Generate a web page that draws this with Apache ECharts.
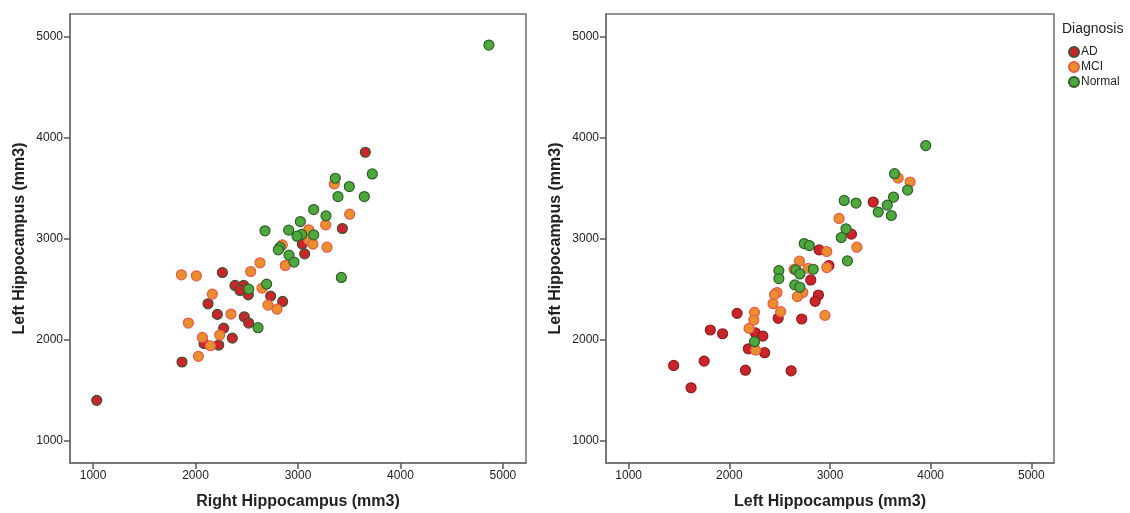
<!DOCTYPE html>
<html>
<head>
<meta charset="utf-8">
<script src="https://cdn.jsdelivr.net/npm/echarts@6/dist/echarts.min.js"></script>
<style>
  html, body { margin: 0; padding: 0; background: #fff; }
  #chart { width: 1130px; height: 513px; }
</style>
</head>
<body>
<div id="chart"></div>
<script>
// left panel: Right Hippocampus (x) vs Left Hippocampus (y)
const leftAD = [
  [3657, 3855], [3433, 3099], [3042, 2944], [3065, 2848], [2262, 2663],
  [2385, 2535], [2470, 2535], [2434, 2485], [2515, 2442], [2733, 2429],
  [2122, 2353], [2850, 2376], [2213, 2248], [2476, 2224], [2519, 2162],
  [2275, 2112], [2359, 2013], [2083, 1960], [2226, 1944], [1868, 1776],
  [1036, 1396]
];
const leftMCI = [
  [3354, 3541], [3504, 3241], [3270, 3135], [3104, 3086], [3107, 2983],
  [3146, 2944], [2847, 2937], [3283, 2914], [2876, 2733], [2629, 2759],
  [2538, 2673], [1862, 2640], [2008, 2630], [2649, 2508], [2164, 2449],
  [2707, 2340], [2795, 2300], [2346, 2251], [1930, 2162], [2236, 2043],
  [2067, 2020], [2145, 1937], [2028, 1832]
];
const leftNormal = [
  [4863, 4917], [3725, 3640], [3364, 3597], [3501, 3515], [3390, 3416],
  [3647, 3416], [3153, 3287], [3273, 3224], [3023, 3168], [2678, 3076],
  [2909, 3083], [3036, 3040], [2990, 3023], [3153, 3036], [2824, 2914],
  [2808, 2888], [2912, 2835], [2961, 2766], [3423, 2614], [2694, 2548],
  [2519, 2498], [2610, 2116]
];

// right panel
const rightAD = [
  [3429, 3361], [3213, 3043], [2892, 2887], [2989, 2732], [2809, 2589],
  [2885, 2440], [2852, 2377], [2485, 2209], [2719, 2202], [2077, 2258],
  [1811, 2093], [1933, 2056], [2258, 2066], [2333, 2033], [2189, 1907],
  [2351, 1868], [1750, 1785], [1447, 1742], [2160, 1695], [2614, 1689],
  [1620, 1520]
];
const rightMCI = [
  [3677, 3599], [3796, 3560], [3090, 3199], [3267, 2914], [2968, 2871],
  [2697, 2775], [2784, 2705], [2968, 2712], [2474, 2464], [2449, 2444],
  [2730, 2464], [2676, 2424], [2434, 2354], [2510, 2275], [2950, 2238],
  [2250, 2268], [2243, 2192], [2196, 2109], [2261, 1894], [2643, 2695]
];
const rightNormal = [
  [3951, 3921], [3641, 3642], [3771, 3480], [3631, 3411], [3569, 3331],
  [3479, 3262], [3609, 3228], [3141, 3377], [3259, 3351], [3159, 3096],
  [3112, 3010], [3173, 2778], [2744, 2950], [2795, 2930], [2492, 2682],
  [2492, 2603], [2661, 2689], [2701, 2649], [2834, 2695], [2650, 2540],
  [2701, 2517], [2250, 1977]
];

const ticks = [1000, 2000, 3000, 4000, 5000];
const groups = ["AD", "MCI", "Normal"];

const fill = { AD: "#c9252b", MCI: "#e98f2e", Normal: "#4ea83c" };
const edge = [
  { AD: "#3d5334", MCI: "#e8584c", Normal: "#2f5f2a" },
  { AD: "#8e1c1c", MCI: "#e8584c", Normal: "#2f5f2a" },
];

const font = "Liberation Sans, Arial, sans-serif";

function makeAxis(idx, name, isX) {
  return {
    type: "value",
    gridIndex: idx,
    min: 775,
    max: 5225,
    name,
    nameLocation: "middle",
    nameGap: isX ? 31 : 42,
    nameTextStyle: { fontFamily: font, fontSize: 16, fontWeight: "bold", color: "#222" },
    axisLine: { show: true, onZero: false, lineStyle: { color: "#6f6f6f", width: 1.5 } },
    axisTick: { show: true, length: 6, customValues: ticks, lineStyle: { color: "#555", width: 1.5 } },
    axisLabel: {
      customValues: ticks,
      formatter: v => String(v),
      fontFamily: font,
      fontSize: 12,
      color: "#222",
      margin: 7,
    },
    splitLine: { show: false },
  };
}

function makeSeries(idx, data) {
  return groups.map((g, i) => ({
    name: g,
    type: "scatter",
    xAxisIndex: idx,
    yAxisIndex: idx,
    symbol: "circle",
    symbolSize: 10,
    data: data[i],
    itemStyle: { color: fill[g], borderColor: edge[idx][g], borderWidth: 1.2, opacity: 1 },
  }));
}

const gridBase = {
  top: 14, bottom: 50, show: true, borderColor: "#6f6f6f", borderWidth: 1.5,
  containLabel: false, outerBoundsMode: "none",
};

const chart = echarts.init(document.getElementById("chart"));
chart.setOption({
  animation: false,
  backgroundColor: "#fff",
  grid: [
    Object.assign({ left: 70, right: 604 }, gridBase),
    Object.assign({ left: 606, right: 76 }, gridBase),
  ],
  xAxis: [
    makeAxis(0, "Right Hippocampus (mm3)", true),
    makeAxis(1, "Left Hippocampus (mm3)", true),
  ],
  yAxis: [
    makeAxis(0, "Left Hippocampus (mm3)", false),
    makeAxis(1, "Left Hippocampus (mm3)", false),
  ],
  title: {
    text: "Diagnosis",
    left: 1062,
    top: 22,
    textStyle: { fontFamily: font, fontSize: 14, fontWeight: "normal", color: "#222" },
    padding: 0,
  },
  legend: {
    data: groups,
    orient: "vertical",
    left: 1068,
    top: 46,
    itemWidth: 10,
    itemHeight: 10,
    itemGap: 3,
    icon: "circle",
    padding: 0,
    textStyle: { fontFamily: font, fontSize: 12, lineHeight: 12, color: "#222", padding: [0, 0, 0, -3] },
  },
  series: [...makeSeries(0, [leftAD, leftMCI, leftNormal]), ...makeSeries(1, [rightAD, rightMCI, rightNormal])],
});
</script>
</body>
</html>
